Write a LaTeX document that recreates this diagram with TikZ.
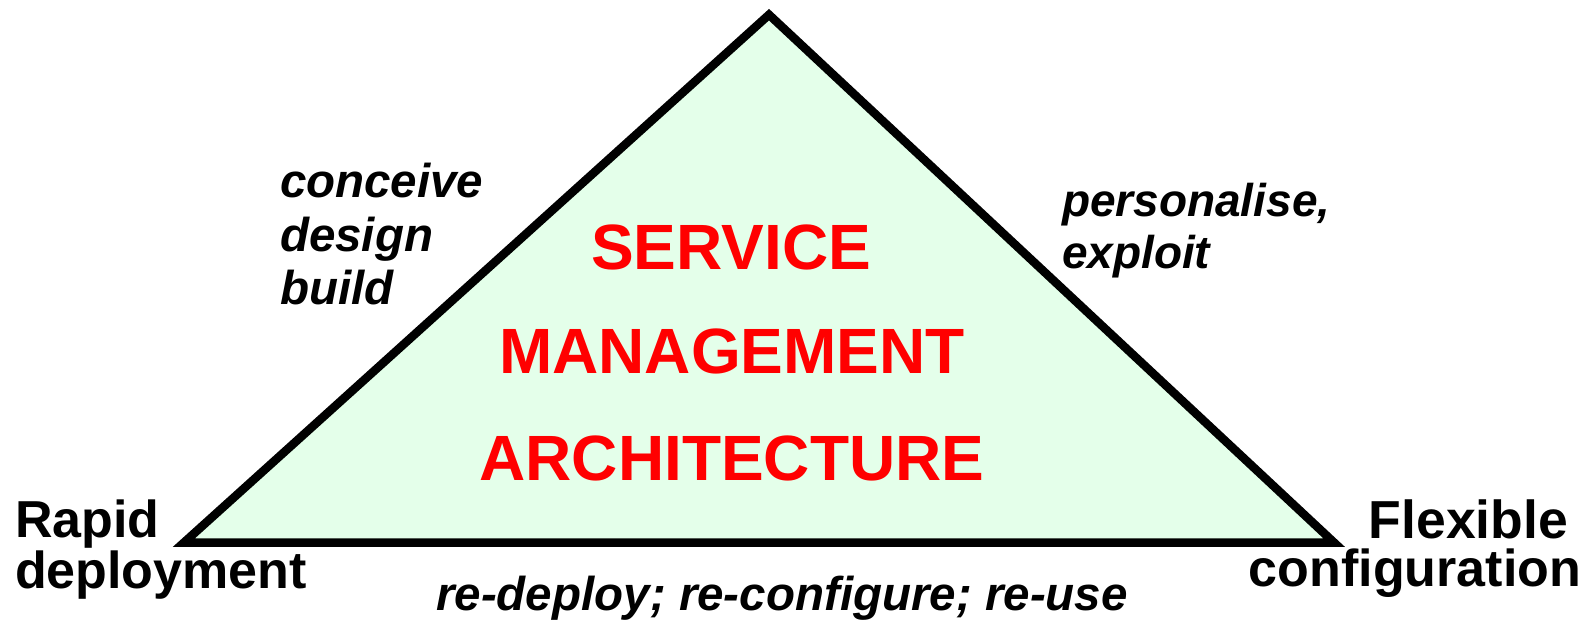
\documentclass[tikz,border=0pt]{standalone}
\usepackage{fontspec}
\setmainfont{Liberation Sans}
\definecolor{trifill}{RGB}{228,255,234}
\definecolor{titlered}{RGB}{255,0,0}
\begin{document}
\begin{tikzpicture}[x=1pt,y=-1pt,
  every node/.style={inner sep=0pt, outer sep=0pt},
  title/.style={text=titlered, font=\fontsize{64}{70}\selectfont\bfseries, anchor=base},
  note/.style={font=\fontsize{46}{52}\selectfont\bfseries\itshape},
  corner/.style={font=\fontsize{52}{56}\selectfont\bfseries},
  tri/.style={draw=black, line width=8.5pt, fill=trifill, line join=miter}]
\useasboundingbox (0,0) rectangle (1590,623);
% triangle
\coordinate (apex) at (769,14.7);
\coordinate (bl) at (184,542.5);
\coordinate (br) at (1334,542.5);
\draw[tri] (apex) -- (bl) -- (br) -- cycle;
% title
\node[title] (t1) at (731,269) {SERVICE};
\node[title] (t2) at (732,373) {MANAGEMENT};
\node[title] (t3) at (732,480) {ARCHITECTURE};
% left side notes
\node[note, anchor=base west, font=\fontsize{47.5}{52}\selectfont\bfseries\itshape] (l1) at (280,197) {conceive};
\node[note, anchor=base west, font=\fontsize{47.5}{52}\selectfont\bfseries\itshape] (l2) at (280,251) {design};
\node[note, anchor=base west, font=\fontsize{47.5}{52}\selectfont\bfseries\itshape] (l3) at (280,304) {build};
% right side notes
\node[note, anchor=base west] (r1) at (1062,216) {personalise,};
\node[note, anchor=base west] (r2) at (1062,268) {exploit};
% bottom note
\node[note, anchor=base, font=\fontsize{47.5}{52}\selectfont\bfseries\itshape] (b1) at (782,610) {re-deploy; re-configure; re-use};
% corners
\node[corner, anchor=base west] (c1) at (15,537) {Rapid};
\node[corner, anchor=base west] (c2) at (15,588) {deployment};
\node[corner, anchor=base east, font=\fontsize{53.5}{56}\selectfont\bfseries] (c3) at (1568,538) {Flexible};
\node[corner, anchor=base east] (c4) at (1581,586) {configuration};
\end{tikzpicture}
\end{document}
